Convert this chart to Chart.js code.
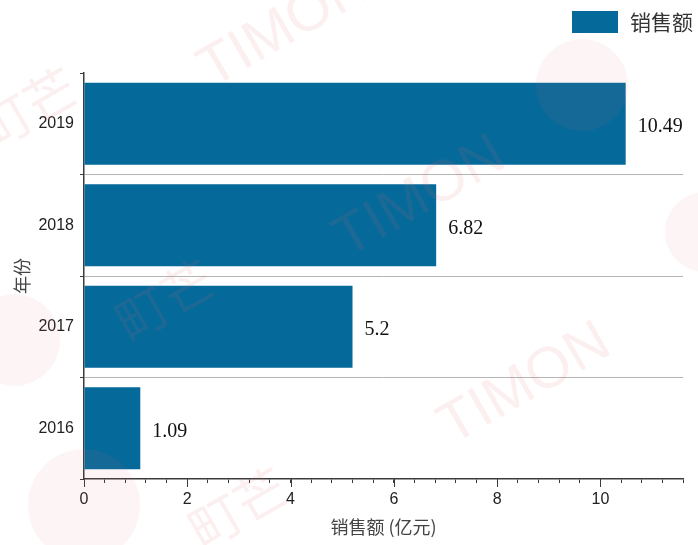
<!DOCTYPE html>
<html>
<head>
<meta charset="utf-8">
<script src="https://cdn.jsdelivr.net/npm/chart.js@4.4.1/dist/chart.umd.min.js"></script>
<style>
  html, body { margin: 0; padding: 0; background: #fff; }
  #grafica { display: block; }
</style>
</head>
<body>
<canvas id="grafica" width="698" height="545"></canvas>
<script>
// 销售额 by year
const years = ['2016', '2017', '2018', '2019'];
const sales = [1.09, 5.2, 6.82, 10.49];
const seriesName = '销售额';
const xTitle = '销售额 (亿元)';
const yTitle = '年份';

const barColor = '#05699a';
const axisColor = '#3c3c3c';

// value written at the end of each bar
const barLabels = {
  id: 'barLabels',
  afterDatasetsDraw(chart) {
    const ctx = chart.ctx;
    const meta = chart.getDatasetMeta(0);
    ctx.save();
    ctx.font = '20px "Liberation Serif", "Times New Roman", serif';
    ctx.fillStyle = '#111';
    ctx.textAlign = 'left';
    ctx.textBaseline = 'middle';
    meta.data.forEach((bar, i) => {
      ctx.fillText(String(sales[i]), bar.x + 12, bar.y + 3);
    });
    ctx.restore();
  }
};

// longer tick marks on the labelled x values
const majorTicks = {
  id: 'majorTicks',
  afterDraw(chart) {
    const scale = chart.scales.x;
    const ctx = chart.ctx;
    ctx.save();
    ctx.strokeStyle = axisColor;
    ctx.lineWidth = 1;
    scale.ticks.forEach(t => {
      const r = t.value / 2;
      if (Math.abs(r - Math.round(r)) > 1e-6) return;
      const px = Math.round(scale.getPixelForValue(t.value)) + 0.5;
      ctx.beginPath();
      ctx.moveTo(px, scale.top);
      ctx.lineTo(px, scale.top + 8);
      ctx.stroke();
    });
    ctx.restore();
  }
};

// faint brand marks across the canvas
const watermark = {
  id: 'watermark',
  afterDraw(chart) {
    const ctx = chart.ctx;
    ctx.save();
    ctx.fillStyle = 'rgba(232, 110, 110, 0.07)';
    [[582, 85, 46], [14, 340, 46], [84, 505, 56], [705, 232, 40]].forEach(([x, y, r]) => {
      ctx.beginPath();
      ctx.arc(x, y, r, 0, Math.PI * 2);
      ctx.fill();
    });
    ctx.fillStyle = 'rgba(232, 110, 110, 0.11)';
    ctx.textAlign = 'center';
    ctx.textBaseline = 'middle';
    const marks = [
      ['TIMON', 285, 28, '58px "Liberation Sans", Arial, sans-serif'],
      ['TIMON', 420, 198, '58px "Liberation Sans", Arial, sans-serif'],
      ['TIMON', 525, 385, '58px "Liberation Sans", Arial, sans-serif'],
      ['町芒', 28, 108, '52px "Noto Sans CJK SC", sans-serif'],
      ['町芒', 165, 300, '52px "Noto Sans CJK SC", sans-serif'],
      ['町芒', 238, 508, '52px "Noto Sans CJK SC", sans-serif']
    ];
    marks.forEach(([text, x, y, font]) => {
      ctx.save();
      ctx.translate(x, y);
      ctx.rotate(-Math.PI / 6);
      ctx.font = font;
      ctx.fillText(text, 0, 0);
      ctx.restore();
    });
    ctx.restore();
  }
};

// legend box in the top right corner
const cornerLegend = {
  id: 'cornerLegend',
  afterDraw(chart) {
    const ctx = chart.ctx;
    const ds = chart.data.datasets[0];
    ctx.save();
    ctx.fillStyle = ds.backgroundColor;
    ctx.fillRect(572, 11, 46, 22);
    ctx.fillStyle = '#333';
    ctx.font = '21px "Noto Sans CJK SC", sans-serif';
    ctx.textAlign = 'left';
    ctx.textBaseline = 'middle';
    ctx.fillText(ds.label, 630, 22);
    ctx.restore();
  }
};

const data = {
  labels: years,
  datasets: [{
    label: seriesName,
    data: sales,
    backgroundColor: barColor,
    barPercentage: 0.81,
    categoryPercentage: 1
  }]
};

const config = {
  type: 'bar',
  data: data,
  options: {
    indexAxis: 'y',
    responsive: false,
    animation: false,
    layout: {
      padding: { left: 0, top: 73, right: 15, bottom: 0 }
    },
    plugins: {
      legend: { display: false },
      tooltip: { enabled: false }
    },
    scales: {
      x: {
        min: 0,
        max: 11.6,
        afterFit(scale) { scale.height = 66; },
        border: { color: axisColor, width: 1.5 },
        grid: {
          drawOnChartArea: false,
          tickLength: 4,
          tickColor: axisColor
        },
        ticks: {
          stepSize: 0.4,
          autoSkip: false,
          maxRotation: 0,
          padding: 7,
          color: '#222',
          font: { family: '"Liberation Sans", Arial, sans-serif', size: 16 },
          callback(value) {
            const r = value / 2;
            return Math.abs(r - Math.round(r)) < 1e-6 ? String(Math.round(value)) : '';
          }
        },
        title: {
          display: true,
          text: xTitle,
          color: '#444',
          font: { family: '"Noto Sans CJK SC", sans-serif', size: 18 },
          padding: { top: 0, bottom: 7 }
        }
      },
      y: {
        reverse: true,
        afterFit(scale) { scale.width = 84; },
        border: { color: axisColor, width: 1.5 },
        grid: {
          offset: true,
          tickLength: 4,
          tickColor: axisColor,
          borderDash: [1, 1],
          color(ctx) {
            return (ctx.index === undefined || ctx.index === 0) ? 'rgba(0,0,0,0)' : '#b4b4b4';
          }
        },
        ticks: {
          padding: 6,
          color: '#222',
          font: { family: '"Liberation Sans", Arial, sans-serif', size: 16 }
        },
        title: {
          display: true,
          text: yTitle,
          color: '#444',
          font: { family: '"Noto Sans CJK SC", sans-serif', size: 18 },
          padding: { top: 11, bottom: 0 }
        }
      }
    }
  },
  plugins: [barLabels, majorTicks, watermark, cornerLegend]
};

new Chart(document.querySelector('#grafica'), config);
</script>
</body>
</html>
